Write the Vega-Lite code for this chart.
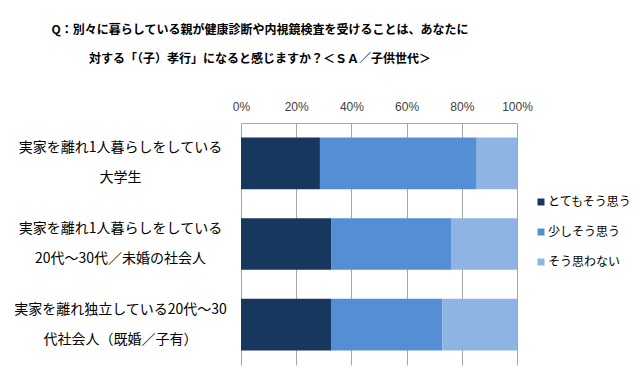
{
  "$schema": "https://vega.github.io/schema/vega-lite/v6.json",
  "width": 276,
  "height": 242,
  "autosize": {"type": "none"},
  "padding": {"left": 241, "top": 123, "right": 123, "bottom": 20},
  "background": "white",
  "title": {
    "text": ["Q：別々に暮らしている親が健康診断や内視鏡検査を受けることは、あなたに", "対する「（子）孝行」になると感じますか？＜ＳＡ／子供世代＞"],
    "anchor": "middle",
    "frame": "group",
    "dx": -119,
    "offset": 34,
    "font": "Noto Sans CJK JP",
    "fontSize": 12,
    "fontWeight": "bold",
    "lineHeight": 29,
    "color": "#000000"
  },
  "data": {
    "values": [
      {"group": "実家を離れ1人暮らしをしている|大学生", "g": 1, "answer": "とてもそう思う", "o": 1, "value": 28.6},
      {"group": "実家を離れ1人暮らしをしている|大学生", "g": 1, "answer": "少しそう思う", "o": 2, "value": 56.8},
      {"group": "実家を離れ1人暮らしをしている|大学生", "g": 1, "answer": "そう思わない", "o": 3, "value": 14.6},
      {"group": "実家を離れ1人暮らしをしている|20代～30代／未婚の社会人", "g": 2, "answer": "とてもそう思う", "o": 1, "value": 32.8},
      {"group": "実家を離れ1人暮らしをしている|20代～30代／未婚の社会人", "g": 2, "answer": "少しそう思う", "o": 2, "value": 43.3},
      {"group": "実家を離れ1人暮らしをしている|20代～30代／未婚の社会人", "g": 2, "answer": "そう思わない", "o": 3, "value": 23.9},
      {"group": "実家を離れ独立している20代～30|代社会人（既婚／子有）", "g": 3, "answer": "とてもそう思う", "o": 1, "value": 32.6},
      {"group": "実家を離れ独立している20代～30|代社会人（既婚／子有）", "g": 3, "answer": "少しそう思う", "o": 2, "value": 40.3},
      {"group": "実家を離れ独立している20代～30|代社会人（既婚／子有）", "g": 3, "answer": "そう思わない", "o": 3, "value": 27.1}
    ]
  },
  "mark": {"type": "bar"},
  "encoding": {
    "y": {
      "field": "group",
      "type": "nominal",
      "sort": {"field": "g", "order": "ascending"},
      "scale": {"paddingInner": 0.36, "paddingOuter": 0.18},
      "axis": {
        "title": null,
        "labelExpr": "split(datum.label, '|')",
        "labelAlign": "center",
        "labelBaseline": "middle",
        "labelOffset": -15,
        "labelPadding": 121,
        "labelLineHeight": 30,
        "labelFont": "Noto Sans CJK JP",
        "labelFontSize": 14,
        "labelColor": "#000000",
        "labelLimit": 300,
        "ticks": false,
        "domain": false
      }
    },
    "x": {
      "field": "value",
      "type": "quantitative",
      "stack": "normalize",
      "scale": {"domain": [0, 1], "nice": false},
      "axis": {
        "orient": "top",
        "title": null,
        "format": ".0%",
        "values": [0, 0.2, 0.4, 0.6, 0.8, 1],
        "labelFlush": false,
        "labelFont": "Liberation Sans",
        "labelFontSize": 12,
        "labelColor": "#404040",
        "labelPadding": 10,
        "ticks": false,
        "domain": true,
        "domainColor": "#A6A6A6",
        "grid": true,
        "gridColor": "#A6A6A6",
        "gridOpacity": 1
      }
    },
    "color": {
      "field": "answer",
      "type": "nominal",
      "scale": {"domain": ["とてもそう思う", "少しそう思う", "そう思わない"], "range": ["#17375E", "#558ED5", "#8EB4E3"]},
      "legend": {
        "title": null,
        "orient": "none",
        "legendX": 294,
        "legendY": 73,
        "symbolType": "square",
        "symbolSize": 49,
        "symbolStrokeWidth": 0,
        "labelFont": "Noto Sans CJK JP",
        "labelFontSize": 12,
        "labelColor": "#000000",
        "labelOffset": 1,
        "labelLimit": 200,
        "rowPadding": 18
      }
    },
    "order": {"field": "o", "type": "quantitative"}
  },
  "config": {"view": {"stroke": null}}
}
